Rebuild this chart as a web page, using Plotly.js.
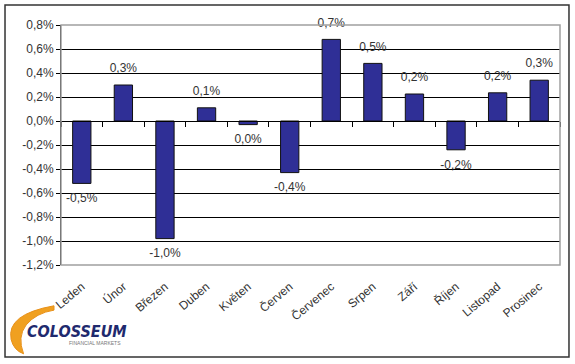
<!DOCTYPE html>
<html><head><meta charset="utf-8">
<script src="https://cdn.plot.ly/plotly-3.0.1.min.js"></script>
<style>html,body{margin:0;padding:0;background:#fff;}#chart{width:575px;height:364px;}</style>
</head><body><div id="chart"></div>
<script>
const months = ['Leden','Únor','Březen','Duben','Květen','Červen','Červenec','Srpen','Září','Říjen','Listopad','Prosinec'];
const values = [-0.52, 0.30, -0.98, 0.11, -0.03, -0.43, 0.68, 0.48, 0.225, -0.24, 0.235, 0.34];
const yTicks = [-1.2,-1.0,-0.8,-0.6,-0.4,-0.2,0,0.2,0.4,0.6,0.8];
const yTickText = yTicks.map(v => v.toFixed(1).replace('.', ',') + '%');

const bars = {
  type:'bar', x: months, y: values,
  marker:{color:'#2f2f96', line:{color:'#111', width:1}},
  hoverinfo:'skip', width:0.44
};
const labels = {
  type:'scatter', mode:'markers+text', x: months, y: values,
  marker:{size:14, opacity:0, color:'#fff'},
  texttemplate:'%{y:.1f}%', textposition: values.map(v => v < 0 ? 'bottom center' : 'top center'),
  textfont:{family:'Liberation Sans, Arial', size:12, color:'#333'},
  cliponaxis:false, hoverinfo:'skip', showlegend:false
};
const axisTrace = {type:'scatter', mode:'none', x: months, y: values.map(()=>0), xaxis:'x2', hoverinfo:'skip', showlegend:false};

const layout = {
  width:575, height:364,
  margin:{l:61, r:15, t:25, b:99},
  paper_bgcolor:'#fff', plot_bgcolor:'#fff',
  separators:', ',
  showlegend:false,
  font:{family:'Liberation Sans, Arial', size:12, color:'#333'},
  xaxis:{type:'category', range:[-0.5,11.5], tickangle:-40, showline:false, ticks:'outside', ticklen:9, tickcolor:'rgba(0,0,0,0)',
         showgrid:false, zeroline:false, tickfont:{size:12, color:'#333'}, fixedrange:true},
  xaxis2:{type:'category', overlaying:'x', anchor:'free', position:0.6, range:[-0.5,11.5], showline:true, linecolor:'#000', linewidth:1,
          ticks:'outside', ticklen:5, tickcolor:'#000', tickson:'boundaries', showticklabels:false, showgrid:false, zeroline:false},
  yaxis:{range:[-1.2,0.8], tickvals:yTicks, ticktext:yTickText, showline:true, linecolor:'#000', linewidth:1,
         ticks:'outside', ticklen:4, tickcolor:'#000', gridcolor:'#000', gridwidth:1, zeroline:false,
         tickfont:{size:12, color:'#333'}, fixedrange:true},
  shapes:[
    {type:'rect', xref:'paper', yref:'paper', x0:0, x1:1, y0:0, y1:1, line:{color:'#a0a0a0', width:1.5}, layer:'above'},
    {type:'rect', xref:'paper', yref:'paper', x0:-0.1122, x1:1.018, y0:-0.3833, y1:1.0833, line:{color:'#333', width:1.5}},
    {type:'path', xref:'paper', yref:'paper',
     path:'M -0.014,-0.170 Q -0.110,-0.205 -0.100,-0.31 Q -0.095,-0.355 -0.075,-0.37 Q -0.088,-0.30 -0.070,-0.250 Q -0.050,-0.200 -0.014,-0.188 Z',
     fillcolor:'#f0a020', line:{color:'#e89018', width:1}}
  ],
  annotations:[
    {xref:'paper', yref:'paper', x:0.0321, y:-0.275, xanchor:'center', yanchor:'middle', text:'<b><i>COLOSSEUM</i></b>', showarrow:false,
     font:{family:'DejaVu Sans Condensed, Liberation Sans', size:16, color:'#1f2a6e'}},
    {xref:'paper', yref:'paper', x:0.068, y:-0.325, xanchor:'center', yanchor:'middle', text:'FINANCIAL MARKETS', showarrow:false,
     font:{family:'Liberation Sans', size:5, color:'#777'}}
  ]
};
Plotly.newPlot('chart', [bars, labels, axisTrace], layout, {staticPlot:true, displayModeBar:false});
</script></body></html>
